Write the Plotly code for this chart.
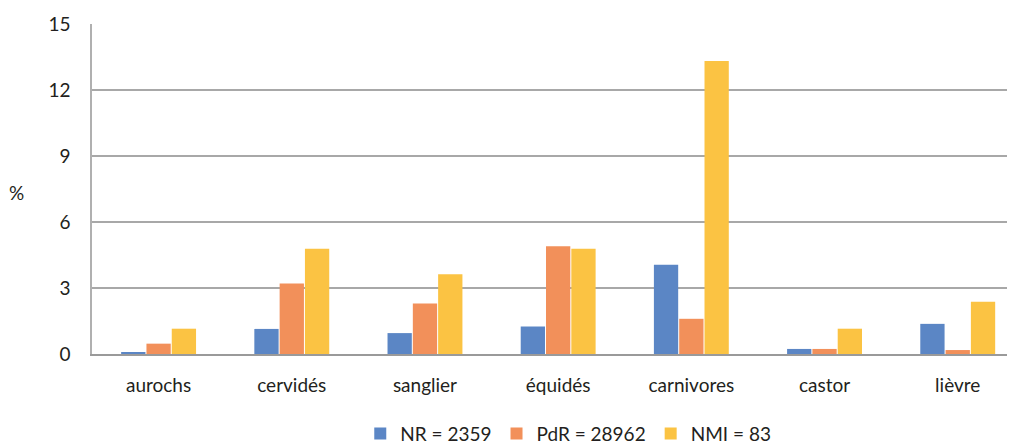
import plotly.graph_objects as go

categories = ["aurochs", "cervidés", "sanglier", "équidés", "carnivores", "castor", "lièvre"]
nr_values = [0.09, 1.14, 0.95, 1.25, 4.06, 0.23, 1.37]
pdr_values = [0.47, 3.2, 2.3, 4.9, 1.6, 0.23, 0.18]
nmi_values = [1.15, 4.78, 3.63, 4.78, 13.32, 1.15, 2.38]
series_names = ["NR = 2359", "PdR = 28962", "NMI = 83"]
colors = ["#5B86C5", "#F2905A", "#FBC343"]
y_ticks = [0, 3, 6, 9, 12, 15]

font_family = "Lato, Open Sans, sans-serif"
txt_color = "#231F20"

fig = go.Figure()
for name, vals, col in zip(series_names, [nr_values, pdr_values, nmi_values], colors):
    fig.add_trace(go.Bar(
        x=list(range(len(categories))), y=vals, name=name,
        marker=dict(color=col, line=dict(width=0)),
    ))

fig.update_layout(
    width=1007, height=436,
    margin=dict(l=84, r=0, t=16, b=90, autoexpand=False),
    paper_bgcolor="white", plot_bgcolor="white",
    barmode="group", bargap=0.43, bargroupgap=0.04,
    font=dict(family=font_family, size=19, color=txt_color),
    showlegend=True,
    legend=dict(orientation="h", x=0.516, xanchor="center",
                yref="container", y=0.024, yanchor="middle",
                font=dict(size=19, color=txt_color), itemwidth=30,
                traceorder="normal"),
    xaxis=dict(
        tickmode="array", tickvals=list(range(len(categories))), ticktext=categories,
        range=[-0.5, 6.43], showgrid=False, zeroline=False,
        showline=True, linecolor="#9A9A9A", linewidth=1.5,
        ticks="", ticklabelstandoff=13, automargin=False,
    ),
    yaxis=dict(
        range=[0, 15], tickmode="array", tickvals=y_ticks,
        showgrid=True, gridcolor="#A8A8A8", gridwidth=1.5,
        zeroline=False, showline=True, linecolor="#B0B0B0", linewidth=1.5,
        ticks="", ticklabelstandoff=16, automargin=False,
    ),
    annotations=[dict(text="%", xref="paper", yref="paper", x=-0.082, y=0.49,
                      xanchor="center", yanchor="middle", showarrow=False,
                      font=dict(size=19, color=txt_color))],
)

fig.write_html("out.html")
